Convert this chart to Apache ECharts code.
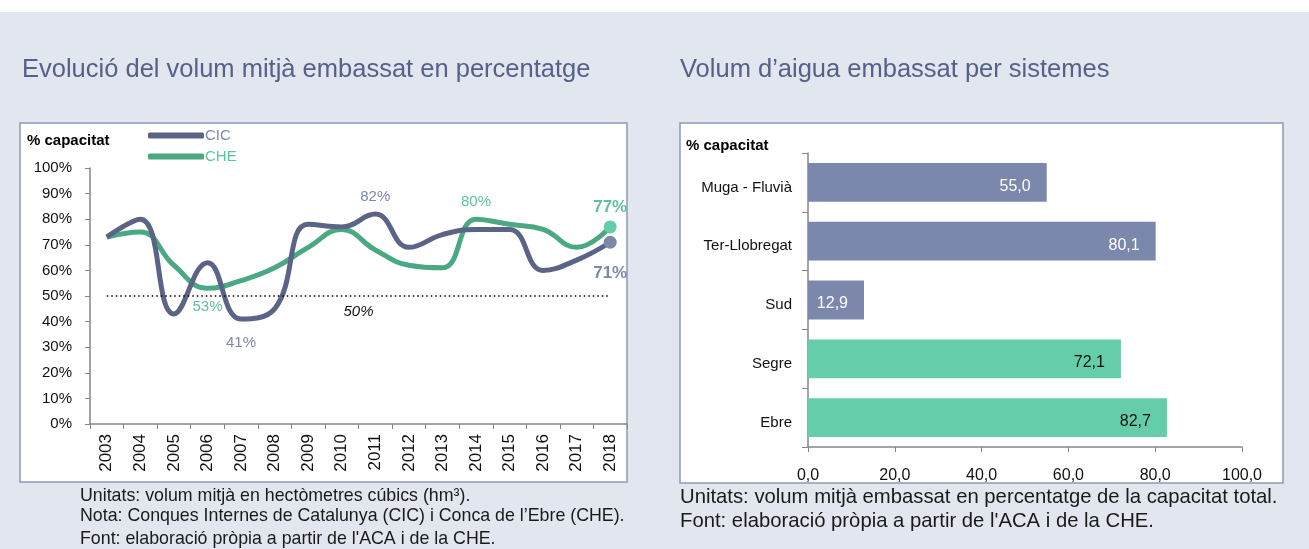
<!DOCTYPE html>
<html>
<head>
<meta charset="utf-8">
<script src="https://cdn.jsdelivr.net/npm/echarts@6/dist/echarts.min.js"></script>
<style>
  html, body { margin: 0; padding: 0; background: #fff; }
  #chart { width: 1309px; height: 549px; }
</style>
</head>
<body>
<div id="chart"></div>
<script>
// dades evolucio (% capacitat)
const years = ['2003','2004','2005','2006','2007','2008','2009','2010','2011','2012','2013','2014','2015','2016','2017','2018'];
const cic = [73, 80, 43, 63, 41, 45, 78, 77, 82, 69, 74, 76, 76, 60, 64, 71];
const che = [73, 75, 62, 53, 56, 61, 69, 76, 68, 62, 61, 80, 78, 76, 69, 77];
const yTicks = ['0%','10%','20%','30%','40%','50%','60%','70%','80%','90%','100%'];

// dades sistemes
const sistemes = ['Muga - Fluvià', 'Ter-Llobregat', 'Sud', 'Segre', 'Ebre'];
const volum = [55.0, 80.1, 12.9, 72.1, 82.7];
const conca = ['CIC', 'CIC', 'CIC', 'CHE', 'CHE'];

const FONT = 'Liberation Sans, Arial, sans-serif';
const BODY = 'Liberation Sans, Arial, sans-serif';
const cicLine = '#5b6486', cicLight = '#7d88ad';
const cheLine = '#4aa982', cheLight = '#5ec39b';

// quins punts porten etiqueta: [posicio, distancia]
const cicLabels = { 4: ['bottom', 16], 8: ['top', 10], 15: ['bottom', 16] };
const cheLabels = { 3: ['bottom', 11], 11: ['top', 10], 15: ['top', 5] };

function lineData(vals, labels, light, last) {
  return vals.map((v, i) => {
    const item = { value: v };
    if (labels[i]) {
      item.label = {
        show: true,
        position: labels[i][0],
        distance: labels[i][1],
        formatter: v + '%',
        color: light,
        fontFamily: BODY,
        fontSize: i === 15 ? 17 : 15,
        fontWeight: i === 15 ? 'bold' : 'normal'
      };
    }
    if (i === vals.length - 1) item.itemStyle = { color: last };
    return item;
  });
}

const myChart = echarts.init(document.getElementById('chart'));

const option = {
  backgroundColor: '#e2e6ee',
  animation: false,
  title: [
    { text: 'Evolució del volum mitjà embassat en percentatge', left: 22, top: 57, padding: 0,
      textStyle: { color: '#56608a', fontSize: 25.5, fontWeight: 'normal', fontFamily: FONT } },
    { text: 'Volum d’aigua embassat per sistemes', left: 680, top: 57, padding: 0,
      textStyle: { color: '#56608a', fontSize: 25.5, fontWeight: 'normal', fontFamily: FONT } }
  ],
  graphic: [
    { type: 'rect', left: 0, top: 0, shape: { width: 1309, height: 12 }, style: { fill: '#fff' }, z: -1 },
    { type: 'rect', shape: { x: 20, y: 123, width: 607, height: 359 }, style: { fill: '#fff', stroke: '#8e98bb', lineWidth: 1.5 }, z: -1 },
    { type: 'rect', shape: { x: 680, y: 123, width: 603, height: 360 }, style: { fill: '#fff', stroke: '#8e98bb', lineWidth: 1.5 }, z: -1 },
    { type: 'text', left: 27, top: 133, style: { text: '% capacitat', font: 'bold 15px ' + BODY, fill: '#000' } },
    { type: 'text', left: 686, top: 138, style: { text: '% capacitat', font: 'bold 15px ' + BODY, fill: '#000' } },
    { type: 'text', left: 80, top: 487, style: { text: 'Unitats: volum mitjà en hectòmetres cúbics (hm³).', font: '17.8px ' + BODY, fill: '#1a1a1a' } },
    { type: 'text', left: 80, top: 507, style: { text: 'Nota: Conques Internes de Catalunya (CIC) i Conca de l’Ebre (CHE).', font: '17.8px ' + BODY, fill: '#1a1a1a' } },
    { type: 'text', left: 80, top: 530, style: { text: "Font: elaboració pròpia a partir de l'ACA i de la CHE.", font: '17.8px ' + BODY, fill: '#1a1a1a' } },
    { type: 'text', left: 680, top: 487, style: { text: 'Unitats: volum mitjà embassat en percentatge de la capacitat total.', font: '20.3px ' + BODY, fill: '#1a1a1a' } },
    { type: 'text', left: 680, top: 511, style: { text: "Font: elaboració pròpia a partir de l'ACA i de la CHE.", font: '20.3px ' + BODY, fill: '#1a1a1a' } }
  ],
  legend: {
    left: 143, top: 123, orient: 'vertical', itemGap: 6,
    itemWidth: 56, itemHeight: 6, icon: 'roundRect',
    textStyle: { fontFamily: BODY, fontSize: 15, padding: [0, 0, 0, -4] },
    data: [
      { name: 'CIC', textStyle: { color: cicLight } },
      { name: 'CHE', textStyle: { color: cheLight } }
    ]
  },
  grid: [
    { left: 90, top: 168, width: 537, height: 256 },
    { left: 808, top: 153, width: 434, height: 294 }
  ],
  xAxis: [
    {
      gridIndex: 0, type: 'category', data: years, boundaryGap: true,
      axisLine: { lineStyle: { color: '#868686', width: 1.5 } },
      axisTick: { show: true, inside: false, length: 5, lineStyle: { color: '#868686' } },
      axisLabel: { rotate: 90, color: '#111', fontFamily: BODY, fontSize: 17, margin: 10 }
    },
    {
      gridIndex: 1, type: 'value', min: 0, max: 100, interval: 20,
      axisLine: { show: true, lineStyle: { color: '#868686', width: 1.5 } },
      axisTick: { show: true, length: 5, lineStyle: { color: '#868686' } },
      splitLine: { show: false },
      axisLabel: { color: '#111', fontFamily: BODY, fontSize: 16, margin: 21,
        formatter: v => v.toFixed(1).replace('.', ',') }
    }
  ],
  yAxis: [
    {
      gridIndex: 0, type: 'value', min: 0, max: 100, interval: 10,
      axisLine: { show: true, lineStyle: { color: '#868686', width: 1.5 } },
      axisTick: { show: true, length: 5, lineStyle: { color: '#868686' } },
      splitLine: { show: false },
      axisLabel: { color: '#111', fontFamily: BODY, fontSize: 15, margin: 18,
        formatter: v => yTicks[v / 10] }
    },
    {
      gridIndex: 1, type: 'category', data: sistemes, inverse: true,
      axisLine: { show: true, lineStyle: { color: '#868686', width: 1.5 } },
      axisTick: { show: true, length: 6, lineStyle: { color: '#868686' } },
      axisLabel: { color: '#111', fontFamily: BODY, fontSize: 15, margin: 16,
        verticalAlign: 'top', lineHeight: 10 }
    }
  ],
  series: [
    {
      name: 'CIC', type: 'line', xAxisIndex: 0, yAxisIndex: 0,
      smooth: 0.45, z: 3,
      data: lineData(cic, cicLabels, cicLight, cicLight),
      lineStyle: { color: cicLine, width: 5 },
      itemStyle: { color: cicLine },
      symbol: 'circle',
      symbolSize: (v, p) => (p.dataIndex === years.length - 1 ? 13 : 0),
      markLine: {
        silent: true, symbol: 'none',
        lineStyle: { color: '#000', type: [1.5, 3], width: 1.5 },
        label: { show: true, position: 'insideMiddleBottom', formatter: '50%', color: '#111',
          fontStyle: 'italic', fontFamily: BODY, fontSize: 15, distance: 8 },
        data: [[{ coord: [years[0], 50] }, { coord: [years[years.length - 1], 50] }]]
      }
    },
    {
      name: 'CHE', type: 'line', xAxisIndex: 0, yAxisIndex: 0,
      smooth: 0.45, z: 2,
      data: lineData(che, cheLabels, cheLight, '#66cdaa'),
      lineStyle: { color: cheLine, width: 5 },
      itemStyle: { color: cheLine },
      symbol: 'circle',
      symbolSize: (v, p) => (p.dataIndex === years.length - 1 ? 13 : 0)
    },
    {
      name: 'volum', type: 'bar', xAxisIndex: 1, yAxisIndex: 1,
      barCategoryGap: '34%',
      data: volum.map((v, i) => ({
        value: v,
        itemStyle: { color: conca[i] === 'CIC' ? '#7b87ab' : '#66cdaa' },
        label: { color: conca[i] === 'CIC' ? '#fff' : '#111' }
      })),
      label: {
        show: true, position: 'insideRight', distance: 16, offset: [0, 4],
        fontFamily: BODY, fontSize: 16,
        formatter: p => p.value.toFixed(1).replace('.', ',')
      }
    }
  ]
};
myChart.setOption(option);
</script>
</body>
</html>
